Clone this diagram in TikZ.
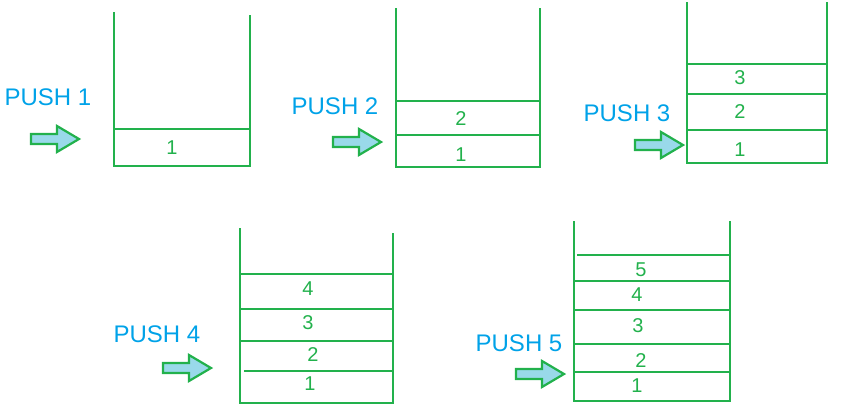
\documentclass[tikz,border=0pt]{standalone}
\usepackage{fontspec}
\setmainfont{Liberation Sans}
\definecolor{sg}{RGB}{34,177,76}
\definecolor{pb}{RGB}{0,162,232}
\definecolor{af}{RGB}{153,217,234}
\newcommand\myarrow[2]{\draw[sg,line width=2.2pt,fill=af,line join=miter] (#1,#2+5)--(#1+26,#2+5)--(#1+26,#2+13)--(#1+48,#2)--(#1+26,#2-13)--(#1+26,#2-5)--(#1,#2-5)--cycle;}
\begin{document}
\begin{tikzpicture}[x=1pt,y=-1pt,
  wall/.style={sg,line width=2.2pt},
  num/.style={text=sg,font=\fontsize{20}{20}\selectfont},
  lab/.style={text=pb,font=\fontsize{24}{24}\selectfont}]
\useasboundingbox (0,0) rectangle (850,407);
% stack 1
\draw[wall] (114,12)--(114,166)--(250,166)--(250,15);
\draw[wall] (114,129)--(250,129);
\node[num] (s1a) at (172,148) {1};
\node[lab] (p1) at (48,97) {PUSH 1};
\myarrow{31}{139}
% stack 2
\draw[wall] (396,8)--(396,167)--(540,167)--(540,8);
\draw[wall] (396,101)--(540,101) (396,135)--(540,135);
\node[num] (s2a) at (461,155) {1};
\node[num] (s2b) at (461,119) {2};
\node[lab] (p2) at (335,106) {PUSH 2};
\myarrow{333}{142}
% stack 3
\draw[wall] (687,2)--(687,163)--(827,163)--(827,2);
\draw[wall] (687,64)--(827,64) (687,94)--(827,94) (687,130)--(827,130);
\node[num] (s3a) at (740,150) {1};
\node[num] (s3b) at (740,112) {2};
\node[num] (s3c) at (740,78) {3};
\node[lab] (p3) at (627,113) {PUSH 3};
\myarrow{635}{145}
% stack 4
\draw[wall] (240,228)--(240,403)--(393,403)--(393,233);
\draw[wall] (240,274)--(393,274) (240,309)--(393,309) (240,341)--(393,341) (244,371)--(393,371);
\node[num] (s4a) at (310,384) {1};
\node[num] (s4b) at (313,355) {2};
\node[num] (s4c) at (308,323) {3};
\node[num] (s4d) at (308,289) {4};
\node[lab] (p4) at (157,334) {PUSH 4};
\myarrow{163}{368}
% stack 5
\draw[wall] (574,221)--(574,401)--(730,401)--(730,221);
\draw[wall] (577,255)--(730,255) (574,281)--(730,281) (574,310)--(730,310) (574,344)--(730,344) (574,372)--(730,372);
\node[num] (s5a) at (637,386) {1};
\node[num] (s5b) at (641,361) {2};
\node[num] (s5c) at (638,326) {3};
\node[num] (s5d) at (637,295) {4};
\node[num] (s5e) at (641,270) {5};
\node[lab] (p5) at (519,343) {PUSH 5};
\myarrow{516}{374}
\end{tikzpicture}
\end{document}
